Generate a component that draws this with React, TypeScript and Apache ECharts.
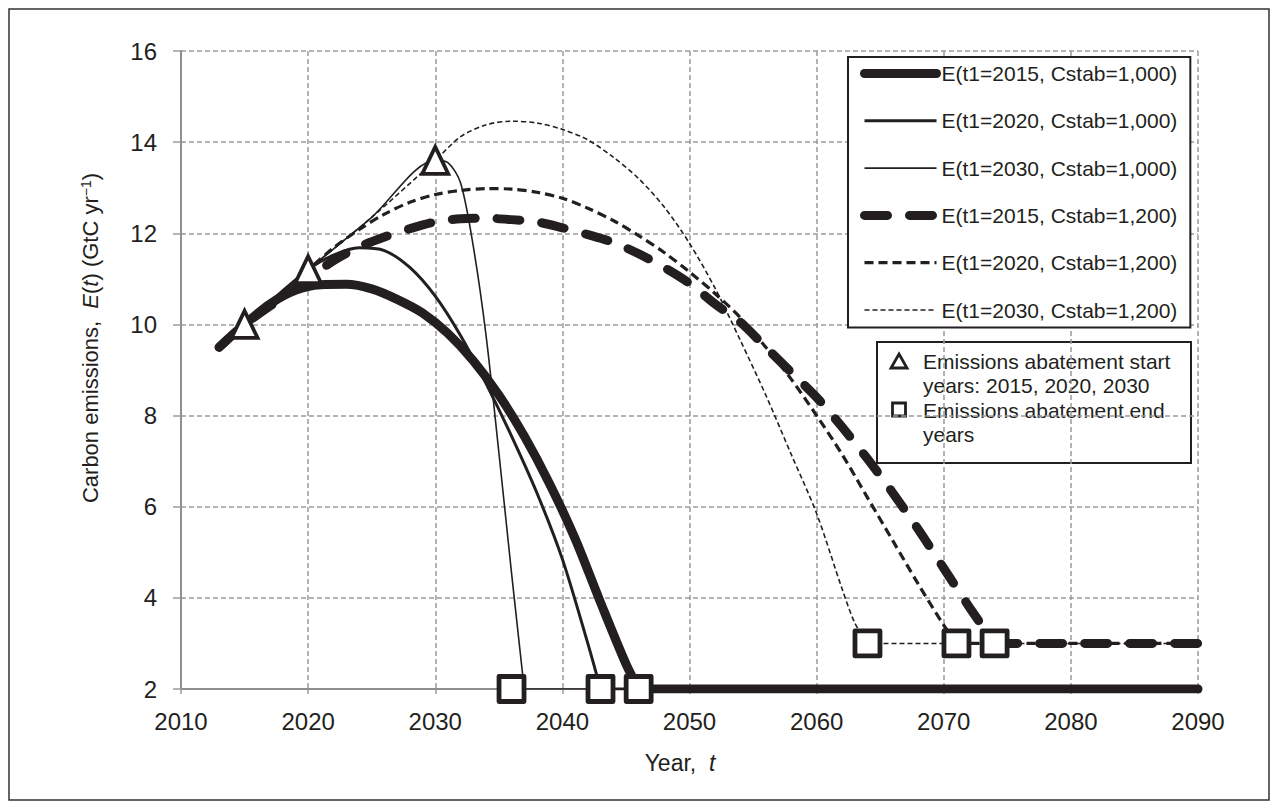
import React, { useEffect, useRef } from "react";
import * as echarts from "echarts";

const INK = "#231f20";
const GRID_GREY = "#9b9b9b";
const AXIS_GREY = "#8e8e8e";
const FONT = "'Liberation Sans', Arial, Helvetica, sans-serif";

const W = 1262;
const H = 793;

// Axis ranges
const X_MIN = 2010;
const X_MAX = 2090;
const X_STEP = 10;
const Y_MIN = 2;
const Y_MAX = 16;
const Y_STEP = 2;

// Series names
const NAMES = [
  "E(t1=2015, Cstab=1,000)",
  "E(t1=2020, Cstab=1,000)",
  "E(t1=2030, Cstab=1,000)",
  "E(t1=2015, Cstab=1,200)",
  "E(t1=2020, Cstab=1,200)",
  "E(t1=2030, Cstab=1,200)",
];

// Emission curves [year, GtC/yr]
const e2015c1000: [number, number][] = [
  [2013, 9.5], [2015, 10.0], [2017, 10.45], [2019, 10.75], [2021, 10.87], [2023, 10.88],
  [2025, 10.78], [2027, 10.55], [2029, 10.25], [2031, 9.8], [2033, 9.2], [2035, 8.45],
  [2037, 7.55], [2039, 6.5], [2041, 5.3], [2043, 3.9], [2045, 2.55], [2046, 2.0],
];
const e2015c1000Tail: [number, number][] = [[2046, 2.0], [2090, 2.0]];

const e2020c1000: [number, number][] = [
  [2013, 9.5], [2015, 10.0], [2020, 11.2], [2022, 11.52], [2024, 11.68], [2026, 11.62],
  [2028, 11.25], [2030, 10.62], [2032, 9.75], [2034, 8.7], [2036, 7.55], [2038, 6.3],
  [2040, 4.85], [2042, 3.0], [2043, 2.0],
];
const e2020c1000Tail: [number, number][] = [[2043, 2.0], [2090, 2.0]];

const e2030c1000: [number, number][] = [
  [2013, 9.5], [2015, 10.0], [2020, 11.2], [2025, 12.35], [2030, 13.6], [2031, 13.55],
  [2032, 13.1], [2033, 11.7], [2034, 9.75], [2035, 7.2], [2036, 4.55], [2037, 2.0],
];
const e2030c1000Tail: [number, number][] = [[2037, 2.0], [2090, 2.0]];

const e2015c1200: [number, number][] = [
  [2013, 9.5], [2015, 10.0], [2018, 10.6], [2020, 11.0], [2022, 11.4], [2024, 11.7],
  [2026, 11.92], [2028, 12.1], [2030, 12.25], [2032, 12.32], [2034, 12.33], [2036, 12.3],
  [2038, 12.25], [2040, 12.12], [2042, 11.97], [2044, 11.8], [2046, 11.55], [2048, 11.25],
  [2050, 10.9], [2052, 10.45], [2054, 10.05], [2056, 9.5], [2058, 8.95], [2060, 8.4],
  [2062, 7.75], [2064, 7.05], [2066, 6.3], [2068, 5.5], [2070, 4.65], [2072, 3.8], [2074, 3.0],
];
const e2015c1200Tail: [number, number][] = [[2074, 3.0], [2090, 3.0]];

const e2020c1200: [number, number][] = [
  [2013, 9.5], [2015, 10.0], [2020, 11.2], [2022, 11.68], [2024, 12.08], [2026, 12.42],
  [2028, 12.68], [2030, 12.85], [2032, 12.94], [2034, 12.98], [2036, 12.97], [2038, 12.9],
  [2040, 12.77], [2042, 12.55], [2044, 12.28], [2046, 11.95], [2048, 11.58], [2050, 11.15],
  [2052, 10.68], [2054, 10.15], [2056, 9.5], [2058, 8.8], [2060, 8.0], [2062, 7.15],
  [2064, 6.2], [2066, 5.25], [2068, 4.3], [2070, 3.4], [2071, 3.0],
];
const e2020c1200Tail: [number, number][] = [[2071, 3.0], [2090, 3.0]];

const e2030c1200: [number, number][] = [
  [2013, 9.5], [2015, 10.0], [2020, 11.2], [2025, 12.35], [2030, 13.6], [2032, 14.12],
  [2034, 14.38], [2036, 14.46], [2038, 14.42], [2040, 14.28], [2042, 14.05], [2044, 13.67],
  [2046, 13.2], [2048, 12.58], [2050, 11.78], [2052, 10.8], [2054, 9.65], [2056, 8.45],
  [2058, 7.15], [2060, 5.85], [2062, 4.2], [2063, 3.45], [2064, 3.0],
];
const e2030c1200Tail: [number, number][] = [[2064, 3.0], [2090, 3.0]];

// Abatement markers
const startPoints: [number, number][] = [[2015, 10.0], [2020, 11.2], [2030, 13.6]];
const endPoints: [number, number][] = [
  [2036, 2.0], [2043, 2.0], [2046, 2.0], [2064, 3.0], [2071, 3.0], [2074, 3.0],
];

const LEGEND2_LINES = [
  "Emissions abatement start",
  "years: 2015, 2020, 2030",
  "Emissions abatement end",
  "years",
];

type Sty = { width: number; dash: number[] | "solid"; cap: "round" | "butt" };
const STYLES: Sty[] = [
  { width: 9, dash: "solid", cap: "round" },
  { width: 3, dash: "solid", cap: "butt" },
  { width: 1.6, dash: "solid", cap: "butt" },
  { width: 9, dash: [23, 22], cap: "round" },
  { width: 3.2, dash: [9, 5], cap: "butt" },
  { width: 1.6, dash: [5, 3], cap: "butt" },
];

const CURVES = [e2015c1000, e2020c1000, e2030c1000, e2015c1200, e2020c1200, e2030c1200];
const TAILS = [e2015c1000Tail, e2020c1000Tail, e2030c1000Tail, e2015c1200Tail, e2020c1200Tail, e2030c1200Tail];
const ORDER = [3, 0, 4, 1, 5, 2]; // drawing order (z)

function lineSeries(i: number, data: [number, number][], z: number, smooth: number) {
  const s = STYLES[i];
  return {
    type: "line",
    name: NAMES[i],
    data,
    smooth,
    symbol: "none",
    showSymbol: false,
    z,
    lineStyle: { color: INK, width: s.width, type: s.dash, cap: s.cap, join: "round" },
    itemStyle: { color: INK },
  };
}

export default function App() {
  const ref = useRef<HTMLDivElement>(null);

  useEffect(() => {
    if (!ref.current) return;
    const chart = echarts.init(ref.current, undefined, { renderer: "svg" });

    const series: any[] = [];
    ORDER.forEach((i, k) => {
      series.push(lineSeries(i, CURVES[i], 2 + k, 0.3));
      series.push(lineSeries(i, TAILS[i], 2 + k, 0));
    });
    series.push({
      type: "scatter",
      name: "start",
      data: startPoints,
      symbol: "triangle",
      symbolSize: [26, 27],
      z: 20,
      itemStyle: { color: "#ffffff", opacity: 1, borderColor: INK, borderWidth: 3.8, borderJoin: "miter" },
    });
    series.push({
      type: "scatter",
      name: "end",
      data: endPoints,
      symbol: "rect",
      symbolSize: 25,
      z: 20,
      itemStyle: { color: "#ffffff", opacity: 1, borderColor: INK, borderWidth: 4.8, borderJoin: "round" },
    });

    const legendData = NAMES.map((n, i) => ({
      name: n,
      lineStyle: { width: STYLES[i].width },
      itemStyle: { opacity: 0 },
    }));

    const lgX = 868;
    const lgY = 333;

    chart.setOption({
      animation: false,
      backgroundColor: "#ffffff",
      textStyle: { fontFamily: FONT },
      grid: { left: 173, right: 72, top: 43, bottom: 112, containLabel: false },
      xAxis: {
        type: "value",
        min: X_MIN,
        max: X_MAX,
        interval: X_STEP,
        axisLine: { show: true, onZero: false, lineStyle: { color: AXIS_GREY, width: 2 } },
        axisTick: { show: true, length: 8, lineStyle: { color: GRID_GREY, width: 1.5, type: [5, 3] } },
        axisLabel: { fontSize: 24, color: INK, margin: 20, fontFamily: FONT, formatter: (v: number) => String(v) },
        splitLine: { show: true, lineStyle: { color: GRID_GREY, width: 1.5, type: [5, 3] } },
      },
      yAxis: {
        type: "value",
        min: Y_MIN,
        max: Y_MAX,
        interval: Y_STEP,
        axisLine: { show: true, onZero: false, lineStyle: { color: AXIS_GREY, width: 2 } },
        axisTick: { show: true, length: 8, lineStyle: { color: GRID_GREY, width: 1.5 } },
        axisLabel: { fontSize: 24, color: INK, margin: 24, fontFamily: FONT },
        splitLine: { show: true, lineStyle: { color: GRID_GREY, width: 1.5, type: [5, 3] } },
      },
      legend: {
        data: legendData,
        orient: "vertical",
        left: 840,
        top: 49,
        padding: [6, 13, 7, 12],
        itemWidth: 72,
        itemHeight: 14,
        itemGap: 26.3,
        selectedMode: false,
        backgroundColor: "#ffffff",
        borderColor: INK,
        borderWidth: 2,
        itemStyle: { opacity: 0 },
        textStyle: { fontSize: 21, color: INK, fontFamily: FONT, lineHeight: 20 },
      },
      graphic: [
        {
          type: "rect",
          shape: { x: 1, y: 1, width: W - 2, height: H - 2 },
          style: { fill: "none", stroke: "#333", lineWidth: 1.5 },
          silent: true,
          z: 100,
        },
        {
          type: "text",
          x: 82,
          y: 330,
          rotation: Math.PI / 2,
          style: {
            text: "Carbon emissions,  {i|E}({i|t}) (GtC yr{sup|−1})",
            fill: INK,
            font: `22px ${FONT}`,
            align: "center",
            verticalAlign: "middle",
            rich: {
              i: { fontStyle: "italic", fontSize: 22, fill: INK, fontFamily: FONT },
              sup: { fontSize: 14, fill: INK, fontFamily: FONT, verticalAlign: "top", lineHeight: 22 },
            },
          },
        },
        {
          type: "text",
          x: 672,
          y: 755,
          style: {
            text: "Year,  {i|t}",
            fill: INK,
            font: `23px ${FONT}`,
            align: "center",
            verticalAlign: "middle",
            rich: { i: { fontStyle: "italic", fontSize: 23, fill: INK, fontFamily: FONT } },
          },
        },
        {
          type: "group",
          left: lgX,
          top: lgY,
          z: 50,
          children: [
            {
              type: "rect",
              shape: { x: 0, y: 0, width: 314, height: 121 },
              style: { fill: "#ffffff", stroke: INK, lineWidth: 2 },
            },
            {
              type: "polygon",
              shape: { points: [[22, 12], [30, 26], [14, 26]] },
              style: { fill: "#ffffff", stroke: INK, lineWidth: 2.8 },
            },
            {
              type: "rect",
              shape: { x: 15.5, y: 61, width: 13, height: 13 },
              style: { fill: "#ffffff", stroke: INK, lineWidth: 2.8 },
            },
            ...LEGEND2_LINES.map((t, k) => ({
              type: "text",
              x: 46,
              y: 19 + k * 24.5,
              style: { text: t, fill: INK, font: `21px ${FONT}`, verticalAlign: "middle" },
            })),
          ],
        },
      ],
      series,
    });

    return () => chart.dispose();
  }, []);

  return <div ref={ref} style={{ width: W, height: H }} />;
}
